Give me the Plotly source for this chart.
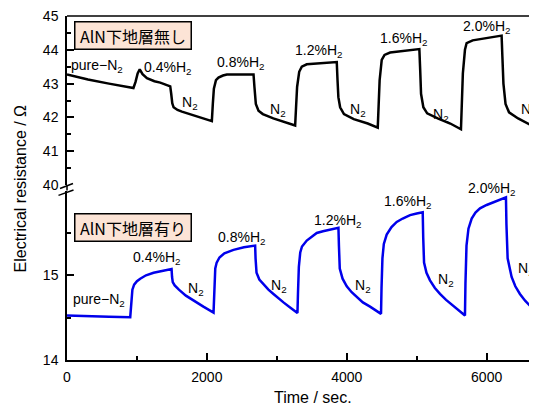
import plotly.graph_objects as go

# ---------------- data ----------------
time_no = [0, 300, 600, 950,
           980, 1010, 1040, 1080, 1143, 1250, 1333, 1476,
           1490, 1505, 1524, 1580, 1643, 1780, 1905, 2071,
           2085, 2100, 2130, 2166, 2230, 2286, 2450, 2667,
           2680, 2700, 2738, 2800, 2950, 3100, 3262,
           3275, 3290, 3320, 3357, 3428, 3600, 3857,
           3868, 3880, 3905, 3960, 4100, 4300, 4443,
           4455, 4470, 4500, 4540, 4620, 4800, 5038,
           5050, 5062, 5095, 5150, 5300, 5480, 5633,
           5645, 5660, 5690, 5714, 5800, 6000, 6214,
           6225, 6240, 6270, 6320, 6450, 6600, 6720]
res_no = [43.27, 43.12, 43.0, 42.87,
          43.05, 43.3, 43.42, 43.28, 43.16, 43.07, 43.03, 42.92,
          42.7, 42.42, 42.3, 42.22, 42.17, 42.08, 42.0, 41.89,
          42.4, 42.85, 43.1, 43.18, 43.24, 43.27, 43.27, 43.27,
          42.9, 42.4, 42.2, 42.1, 41.97, 41.87, 41.76,
          42.3, 42.9, 43.35, 43.5, 43.57, 43.6, 43.64,
          43.1, 42.6, 42.3, 42.1, 41.95, 41.82, 41.7,
          42.3, 43.1, 43.7, 43.85, 43.92, 43.97, 44.02,
          43.4, 42.7, 42.3, 42.12, 41.97, 41.82, 41.65,
          42.4, 43.3, 44.0, 44.2, 44.28, 44.35, 44.42,
          43.8, 43.0, 42.4, 42.15, 41.97, 41.8, 41.68]

time_with = [0, 300, 600, 904,
             912, 920, 935, 960, 1000, 1047, 1130, 1238, 1360, 1495,
             1502, 1512, 1540, 1600, 1700, 1809, 1950, 2095,
             2101, 2108, 2120, 2140, 2180, 2250, 2381, 2530, 2690,
             2696, 2710, 2750, 2810, 2880, 2952, 3020, 3095, 3190, 3295,
             3303, 3315, 3335, 3360, 3428, 3500, 3571, 3660, 3762, 3881,
             3888, 3900, 3940, 4000, 4070, 4143, 4230, 4333, 4420, 4490,
             4497, 4510, 4530, 4571, 4640, 4714, 4800, 4905, 5000, 5086,
             5093, 5105, 5140, 5190, 5260, 5333, 5420, 5524, 5610, 5690,
             5697, 5712, 5740, 5786, 5840, 5905, 6000, 6095, 6190, 6276,
             6283, 6300, 6357, 6410, 6476, 6550, 6619, 6720]
res_with = [14.525, 14.515, 14.51, 14.505,
            14.62, 14.74, 14.83, 14.89, 14.93, 14.96, 15.0, 15.03, 15.055, 15.075,
            14.98, 14.92, 14.88, 14.83, 14.76, 14.70, 14.63, 14.56,
            14.75, 14.95, 15.08, 15.15, 15.21, 15.26, 15.30, 15.33, 15.35,
            15.2, 15.03, 14.95, 14.89, 14.83, 14.78, 14.73, 14.68, 14.62, 14.555,
            14.8, 15.1, 15.27, 15.34, 15.41, 15.46, 15.5, 15.52, 15.54, 15.56,
            15.35, 15.08, 14.96, 14.87, 14.8, 14.74, 14.68, 14.63, 14.58, 14.545,
            14.85, 15.2, 15.37, 15.48, 15.57, 15.63, 15.67, 15.71, 15.73, 15.745,
            15.45, 15.15, 15.03, 14.94, 14.85, 14.78, 14.71, 14.64, 14.58, 14.525,
            14.9, 15.35, 15.55, 15.67, 15.74, 15.79, 15.83, 15.86, 15.89, 15.92,
            15.6, 15.2, 14.98, 14.87, 14.78, 14.7, 14.64, 14.58]

gas_labels = ["pure−N<sub>2</sub>", "0.4%H<sub>2</sub>", "N<sub>2</sub>", "0.8%H<sub>2</sub>",
              "N<sub>2</sub>", "1.2%H<sub>2</sub>", "N<sub>2</sub>", "1.6%H<sub>2</sub>",
              "N<sub>2</sub>", "2.0%H<sub>2</sub>", "N<sub>2</sub>"]
x_ticks = [0, 2000, 4000, 6000]
y_ticks_top = [40, 41, 42, 43, 44, 45]
y_ticks_bottom = [14, 15]
panel_titles = ["AlN下地層無し", "AlN下地層有り"]

# label anchor positions (time, resistance); extra pixel shift for the last bottom label
top_lab_x = [433, 1440, 1760, 2486, 3020, 3600, 4155, 4806, 5344, 5999, 6606]
top_lab_y = [43.51, 43.45, 42.43, 43.6, 42.23, 43.96, 42.21, 44.33, 42.08, 44.67, 42.23]
bot_lab_x = [459, 1286, 1845, 2488, 3034, 3863, 4226, 4871, 5420, 6067, 6560]
bot_lab_y = [14.71, 15.20, 14.84, 15.44, 14.875, 15.64, 14.875, 15.86, 14.95, 15.995, 15.08]
bot_lab_shift = [0, 0, 0, 0, 0, 0, 0, 0, 0, 2, 0]

FONT = "Liberation Sans, Arial, sans-serif"
CJK = "Noto Sans CJK JP"

fig = go.Figure()
fig.add_trace(go.Scatter(x=time_no, y=res_no, mode="lines", yaxis="y2",
                         line=dict(color="black", width=2.5), showlegend=False))
fig.add_trace(go.Scatter(x=time_with, y=res_with, mode="lines", yaxis="y",
                         line=dict(color="rgb(0,0,235)", width=2.5), showlegend=False))

# page offset from the default body margin
OFF = 8
W, H = 537 - OFF, 410 - OFF
L, R, T, B = 67 - OFF, 0, 12 - OFF, 50
PW, PH = W - L - R, H - T - B


def px(x):  # page pixel -> paper fraction
    return (x - OFF - L) / PW


def py(y):
    return (H - B - (y - OFF)) / PH


bot_top = py(188.6)
top_bot = py(183)

common_axis = dict(showgrid=False, zeroline=False, showline=True, linecolor="black",
                   linewidth=1.5, ticks="inside", ticklen=7, tickwidth=1.5,
                   tickcolor="black", tickfont=dict(family=FONT, size=14, color="black"),
                   ticklabeloverflow="allow")

fig.update_layout(
    width=W, height=H,
    margin=dict(l=L, r=R, t=T, b=B),
    paper_bgcolor="white", plot_bgcolor="white",
    font=dict(family=FONT, size=14, color="black"),
    xaxis=dict(range=[0, 6720], tickvals=x_ticks, ticktext=[str(v) for v in x_ticks],
               minor=dict(tickvals=[1000, 3000, 5000], ticks="inside", ticklen=4,
                          tickwidth=1.5, tickcolor="black"),
               ticklabelstandoff=3, **common_axis),
    yaxis=dict(range=[14, 16], domain=[0, bot_top], tickvals=y_ticks_bottom,
               ticktext=[str(v) for v in y_ticks_bottom],
               minor=dict(tickvals=[14.5, 15.5], ticks="inside", ticklen=4,
                          tickwidth=1.5, tickcolor="black"),
               ticklabelstandoff=4, **common_axis),
    yaxis2=dict(range=[40, 45], domain=[top_bot, 1], anchor="x", tickvals=y_ticks_top,
                ticktext=[str(v) for v in y_ticks_top],
                minor=dict(dtick=0.5, tick0=40, ticks="inside", ticklen=4,
                           tickwidth=1.5, tickcolor="black"),
                ticklabelstandoff=4, **common_axis),
)

shapes = [
    dict(type="line", xref="paper", yref="paper", x0=0, x1=1, y0=1, y1=1,
         line=dict(color="black", width=1.5)),
    dict(type="line", xref="paper", yref="paper", x0=0, x1=0, y0=bot_top, y1=top_bot,
         line=dict(color="black", width=1.5)),
    dict(type="line", xref="paper", yref="paper", x0=px(60), x1=px(73), y0=py(186.5), y1=py(181.5),
         line=dict(color="black", width=1.5)),
    dict(type="line", xref="paper", yref="paper", x0=px(58.5), x1=px(73.5), y0=py(193.5), y1=py(188),
         line=dict(color="black", width=1.5)),
]
fig.update_layout(shapes=shapes)

ann = []
for t, lx, ly in zip(gas_labels, top_lab_x, top_lab_y):
    ann.append(dict(x=lx, y=ly, xref="x", yref="y2", text=t, showarrow=False,
                    xanchor="center", yanchor="middle",
                    font=dict(family=FONT, size=14, color="black")))
for t, lx, ly, sh in zip(gas_labels, bot_lab_x, bot_lab_y, bot_lab_shift):
    ann.append(dict(x=lx, y=ly, xref="x", yref="y", text=t, showarrow=False,
                    xanchor="center", yanchor="middle", yshift=sh,
                    font=dict(family=FONT, size=14, color="black")))

for title, top_px in zip(panel_titles, [16.7, 211.7]):
    ann.append(dict(x=px(74), y=py(top_px), xref="paper", yref="paper", xanchor="left",
                    yanchor="top", text=" " + title + " ", showarrow=False,
                    font=dict(family=CJK, size=16, color="black"),
                    bgcolor="#FCE4D6", bordercolor="black", borderwidth=1.5, borderpad=1))

ann.append(dict(x=px(313), y=py(398), xref="paper", yref="paper", text="Time / sec.",
                xanchor="center", yanchor="middle",
                showarrow=False, font=dict(family=FONT, size=16, color="black")))
ann.append(dict(x=px(20), y=py(186.5), xref="paper", yref="paper",
                text="Electrical resistance / Ω", textangle=-90,
                xanchor="center", yanchor="middle",
                showarrow=False, font=dict(family=FONT, size=16, color="black")))
fig.update_layout(annotations=ann)

fig.write_html("out.html")
